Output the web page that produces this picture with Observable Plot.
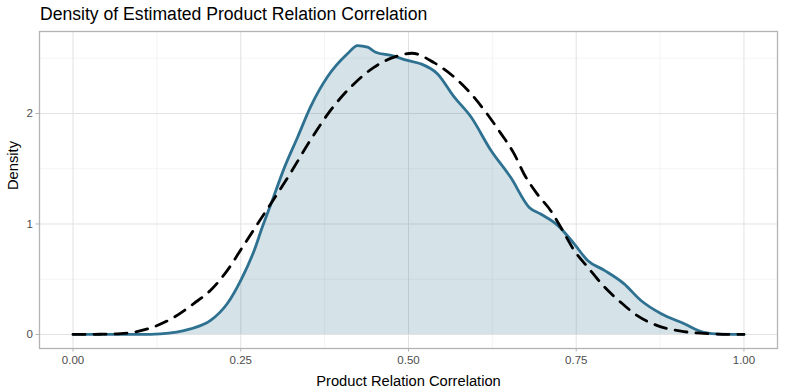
<!DOCTYPE html>
<html>
<head>
<meta charset="utf-8">
<script src="https://cdn.jsdelivr.net/npm/d3@7"></script>
<script src="https://cdn.jsdelivr.net/npm/@observablehq/plot@0.6"></script>
<style>
  html, body { margin: 0; padding: 0; background: #fff; }
  #title { height: 26px; box-sizing: border-box; padding: 2px 0 0 40px; font-family: "Liberation Sans", Arial, sans-serif; font-size: 17.6px; line-height: 24px; color: #000; white-space: nowrap; }
  #chart svg { display: block; }
</style>
</head>
<body>
<div id="title">Density of Estimated Product Relation Correlation</div>
<div id="chart"></div>
<script>
// Estimated density (solid, filled)
const solidX = [0.00, 0.05, 0.10, 0.13, 0.175, 0.205, 0.23, 0.25, 0.27, 0.282, 0.295, 0.315, 0.335, 0.354, 0.379, 0.409, 0.424, 0.439, 0.451, 0.474, 0.4985, 0.518, 0.543, 0.568, 0.593, 0.623, 0.6525, 0.68, 0.697, 0.722, 0.747, 0.767, 0.792, 0.821, 0.846, 0.876, 0.911, 0.94, 0.966, 1.00];
const solidY = [0.00, 0.00, 0.00, 0.005, 0.05, 0.127, 0.28, 0.49, 0.76, 0.97, 1.18, 1.51, 1.79, 2.06, 2.33, 2.54, 2.615, 2.60, 2.555, 2.525, 2.48, 2.45, 2.36, 2.15, 1.97, 1.665, 1.42, 1.15, 1.09, 0.99, 0.82, 0.67, 0.58, 0.46, 0.31, 0.19, 0.097, 0.02, 0.003, 0.00];
// Reference density (dashed)
const dashX = [0.00, 0.04, 0.071, 0.111, 0.146, 0.18, 0.205, 0.23, 0.2525, 0.275, 0.32, 0.354, 0.384, 0.419, 0.449, 0.4785, 0.505, 0.538, 0.568, 0.593, 0.613, 0.6376, 0.6575, 0.672, 0.692, 0.712, 0.727, 0.747, 0.767, 0.792, 0.8165, 0.841, 0.871, 0.906, 0.94, 0.98, 1.00];
const dashY = [0.00, 0.002, 0.008, 0.05, 0.14, 0.28, 0.40, 0.58, 0.79, 1.00, 1.42, 1.76, 2.03, 2.27, 2.42, 2.51, 2.545, 2.46, 2.33, 2.18, 2.03, 1.82, 1.635, 1.455, 1.27, 1.12, 0.97, 0.76, 0.61, 0.43, 0.29, 0.17, 0.08, 0.03, 0.01, 0.001, 0.00];
const xTicks = [0, 0.25, 0.5, 0.75, 1];
const xMinor = [0.125, 0.375, 0.625, 0.875];
const yTicks = [0, 1, 2];
const yMinor = [0.5, 1.5, 2.5];
const xTitle = "Product Relation Correlation";
const yTitle = "Density";

const solid = solidX.map((x, i) => ({x, y: solidY[i]}));
const dash = dashX.map((x, i) => ({x, y: dashY[i]}));

const lineColor = "#2e7191";
const font = "'Liberation Sans', Arial, sans-serif";

const chart = Plot.plot({
  width: 785,
  height: 366,
  marginTop: 5,
  marginBottom: 44,
  marginLeft: 39,
  marginRight: 8,
  style: {fontFamily: font, background: "#fff"},
  x: {domain: [-0.05, 1.05]},
  y: {domain: [-0.127, 2.742]},
  marks: [
    Plot.ruleX(xMinor, {stroke: "#ededed", strokeWidth: 0.6}),
    Plot.ruleY(yMinor, {stroke: "#ededed", strokeWidth: 0.6}),
    Plot.ruleX(xTicks, {stroke: "#e2e2e2", strokeWidth: 1}),
    Plot.ruleY(yTicks, {stroke: "#e2e2e2", strokeWidth: 1}),
    Plot.areaY(solid, {x: "x", y: "y", fill: lineColor, fillOpacity: 0.2, curve: "monotone-x"}),
    Plot.line(solid, {x: "x", y: "y", stroke: lineColor, strokeWidth: 2.8, curve: "monotone-x"}),
    Plot.line(dash, {x: "x", y: "y", stroke: "#000", strokeWidth: 2.8, strokeDasharray: "12,9", curve: "monotone-x"}),
    Plot.frame({stroke: "#b3b3b3", strokeWidth: 1.3}),
    Plot.axisX(xTicks, {tickFormat: d3.format(".2f"), tickSize: 3.5, tickPadding: 4, stroke: "#b3b3b3", fill: "#4d4d4d", fontSize: 11.5, label: null}),
    Plot.axisY(yTicks, {tickFormat: d3.format("d"), tickSize: 3.5, tickPadding: 3, stroke: "#b3b3b3", fill: "#4d4d4d", fontSize: 11.5, label: null}),
    Plot.text([xTitle], {frameAnchor: "bottom", dy: 37, fontSize: 14.7, fill: "#000", text: d => d}),
    Plot.text([yTitle], {frameAnchor: "left", dx: -26, rotate: -90, fontSize: 14.7, fill: "#000", text: d => d})
  ]
});
document.getElementById("chart").appendChild(chart);
</script>
</body>
</html>
